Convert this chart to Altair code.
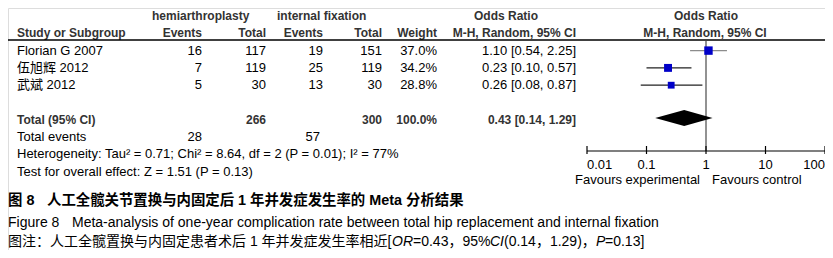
import altair as alt
import pandas as pd

# ---------------- data ----------------
studies = ["Florian G 2007", "伍旭辉 2012", "武斌 2012"]
hemi_events = [16, 7, 5]
hemi_total = [117, 119, 30]
fix_events = [19, 25, 13]
fix_total = [151, 119, 30]
weights = [37.0, 34.2, 28.8]
or_est = [1.10, 0.23, 0.26]
or_lo = [0.54, 0.10, 0.08]
or_hi = [2.25, 0.57, 0.87]

total_hemi, total_fix = 266, 300
total_events_hemi, total_events_fix = 28, 57
pooled = [0.43, 0.14, 1.29]  # est, lo, hi
heterogeneity = "Heterogeneity: Tau² = 0.71; Chi² = 8.64, df = 2 (P = 0.01); I² = 77%"
overall = "Test for overall effect: Z = 1.51 (P = 0.13)"

tick_values = [0.01, 0.1, 1, 10, 100]
tick_labels = ["0.01", "0.1", "1", "10", "100"]

caption1a = "图 8"
caption1b = "人工全髋关节置换与内固定后 1 年并发症发生率的 Meta 分析结果"
caption2a = "Figure 8"
caption2b = "Meta-analysis of one-year complication rate between total hip replacement and internal fixation"
caption3 = [("图注：人工全髋置换与内固定患者术后 1 年并发症发生率相近[", False),
            ("OR", True), ("=0.43，95%", False), ("CI", True),
            ("(0.14，1.29)，", False), ("P", True), ("=0.13]", False)]

# ---------------- style / layout ----------------
FONT = "Liberation Sans, Arial, Noto Sans CJK SC, sans-serif"
W, H = 817, 242
ROW = 17.3
YS = alt.Scale(domain=[-8 / ROW, (H - 8) / ROW], range=[0, H])
XS = alt.Scale(type="log", domain=[0.01, 100], range=[579, 817])
HEAD = "#333333"
CI_COLORS = ["#8c8c8c", "#222222", "#222222"]
caption3_x = [0, 384, 405, 482, 496, 588, 597]

study_rows = [2, 3, 4]
R_TOTAL, R_TEV, R_HET, R_TEST = 6, 7, 8, 9


def text_layer(rows, texts, x, align="left", bold=False, size=13, color="black"):
    df = pd.DataFrame({"row": rows, "t": texts})
    return alt.Chart(df).mark_text(
        align=align, baseline="middle", font=FONT, fontSize=size,
        fontWeight="bold" if bold else "normal", color=color
    ).encode(x=alt.value(x), y=alt.Y("row:Q", scale=YS, axis=None), text="t:N")


def free_text(text, x, y, size=13, bold=False, italic=False, align="left"):
    df = pd.DataFrame({"t": [text]})
    return alt.Chart(df).mark_text(
        align=align, baseline="middle", font=FONT, fontSize=size,
        fontWeight="bold" if bold else "normal",
        fontStyle="italic" if italic else "normal", color="black"
    ).encode(x=alt.value(x), y=alt.value(y), text="t:N")


layers = []

# header rows
layers.append(text_layer([0], ["hemiarthroplasty"], 144, bold=True, size=12, color=HEAD))
layers.append(text_layer([0], ["internal fixation"], 269, bold=True, size=12, color=HEAD))
layers.append(text_layer([0], ["Odds Ratio"], 498, align="center", bold=True, size=12, color=HEAD))
layers.append(text_layer([0], ["Odds Ratio"], 698, align="center", bold=True, size=12, color=HEAD))
layers.append(text_layer([1], ["Study or Subgroup"], 9, bold=True, size=12, color=HEAD))
for x, lab in [(194, "Events"), (258, "Total"), (315, "Events"), (374, "Total"),
               (429, "Weight"), (568, "M-H, Random, 95% CI")]:
    layers.append(text_layer([1], [lab], x, align="right", bold=True, size=12, color=HEAD))
layers.append(text_layer([1], ["M-H, Random, 95% CI"], 697, align="center", bold=True, size=12, color=HEAD))

# header line
layers.append(alt.Chart(pd.DataFrame({"a": [0]})).mark_rule(color="black", strokeWidth=1.3).encode(
    x=alt.value(0), x2=alt.value(W), y=alt.value(32)))

# study rows
layers.append(text_layer(study_rows, studies, 9))
layers.append(text_layer(study_rows, [str(v) for v in hemi_events], 194, align="right"))
layers.append(text_layer(study_rows, [str(v) for v in hemi_total], 258, align="right"))
layers.append(text_layer(study_rows, [str(v) for v in fix_events], 315, align="right"))
layers.append(text_layer(study_rows, [str(v) for v in fix_total], 374, align="right"))
layers.append(text_layer(study_rows, [f"{w:.1f}%" for w in weights], 429, align="right"))
layers.append(text_layer(study_rows, [f"{e:.2f} [{l:.2f}, {h:.2f}]" for e, l, h in zip(or_est, or_lo, or_hi)],
                         568, align="right"))

# total rows
layers.append(text_layer([R_TOTAL], ["Total (95% CI)"], 9, bold=True, size=12, color=HEAD))
layers.append(text_layer([R_TOTAL], [str(total_hemi)], 258, align="right", bold=True, size=12, color=HEAD))
layers.append(text_layer([R_TOTAL], [str(total_fix)], 374, align="right", bold=True, size=12, color=HEAD))
layers.append(text_layer([R_TOTAL], [f"{sum(weights):.1f}%"], 429, align="right", bold=True, size=12, color=HEAD))
layers.append(text_layer([R_TOTAL], [f"{pooled[0]:.2f} [{pooled[1]:.2f}, {pooled[2]:.2f}]"], 568,
                         align="right", bold=True, size=12, color=HEAD))
layers.append(text_layer([R_TEV], ["Total events"], 9))
layers.append(text_layer([R_TEV], [str(total_events_hemi)], 194, align="right"))
layers.append(text_layer([R_TEV], [str(total_events_fix)], 312, align="right"))
layers.append(text_layer([R_HET], [heterogeneity], 9))
layers.append(text_layer([R_TEST], [overall], 9))

# forest plot: line of no effect
layers.append(alt.Chart(pd.DataFrame({"v": [1]})).mark_rule(color="#6e6e6e", strokeWidth=1.5).encode(
    x=alt.X("v:Q", scale=XS, axis=None), y=alt.value(33), y2=alt.value(143)))

# CI lines
ci_df = pd.DataFrame({"row": study_rows, "lo": or_lo, "hi": or_hi, "col": CI_COLORS})
layers.append(alt.Chart(ci_df).mark_rule(strokeWidth=1.3).encode(
    x=alt.X("lo:Q", scale=XS, axis=None), x2="hi:Q",
    y=alt.Y("row:Q", scale=YS, axis=None), color=alt.Color("col:N", scale=None)))

# squares
sq_df = pd.DataFrame({"row": study_rows, "est": or_est, "w": weights})
layers.append(alt.Chart(sq_df).mark_square(color="#0000c8", opacity=1).encode(
    x=alt.X("est:Q", scale=XS, axis=None), y=alt.Y("row:Q", scale=YS, axis=None),
    size=alt.Size("w:Q", scale=alt.Scale(domain=[25, 40], range=[35, 80], zero=False), legend=None)))

# pooled diamond
HALF = 0.46
dia_df = pd.DataFrame({
    "x": [pooled[1], pooled[0], pooled[2]],
    "y1": [R_TOTAL - 0.1, R_TOTAL - 0.1 - HALF, R_TOTAL - 0.1],
    "y2": [R_TOTAL - 0.1, R_TOTAL - 0.1 + HALF, R_TOTAL - 0.1],
})
layers.append(alt.Chart(dia_df).mark_area(color="black", opacity=1).encode(
    x=alt.X("x:Q", scale=XS, axis=None), y=alt.Y("y1:Q", scale=YS, axis=None), y2="y2:Q"))

# axis
layers.append(alt.Chart(pd.DataFrame({"a": [tick_values[0]], "b": [tick_values[-1]]})).mark_rule(
    color="black", strokeWidth=1.2).encode(
    x=alt.X("a:Q", scale=XS, axis=None), x2="b:Q", y=alt.value(143)))
tick_df = pd.DataFrame({"t": tick_values, "lab": tick_labels, "i": range(len(tick_values))})
layers.append(alt.Chart(tick_df).mark_rule(color="black", strokeWidth=1.2).encode(
    x=alt.X("t:Q", scale=XS, axis=None), y=alt.value(138), y2=alt.value(146)))
for cond, align in [("datum.i == 0", "left"), (f"datum.i > 0 && datum.i < {len(tick_values) - 1}", "center"),
                    (f"datum.i == {len(tick_values) - 1}", "right")]:
    layers.append(alt.Chart(tick_df).transform_filter(cond).mark_text(
        align=align, baseline="middle", font=FONT, fontSize=13, color="black").encode(
        x=alt.X("t:Q", scale=XS, axis=None), y=alt.value(157), text="lab:N"))
layers.append(free_text("Favours experimental", 692, 172, align="right"))
layers.append(free_text("Favours control", 704, 172))

# captions
layers.append(free_text(caption1a, 0, 193, size=14.4, bold=True))
layers.append(free_text(caption1b, 39, 193, size=14.4, bold=True))
layers.append(free_text(caption2a, 0, 215, size=14))
layers.append(free_text(caption2b, 64, 215, size=14))
for (seg, ital), x in zip(caption3, caption3_x):
    layers.append(free_text(seg, x, 234, size=14, italic=ital))

chart = alt.layer(*layers).properties(
    width=W, height=H, autosize=alt.AutoSizeParams(type="none"), padding=0
).configure_view(stroke=None).configure(background="white")

chart.save("out.html", embed_options={"renderer": "svg", "actions": False})
